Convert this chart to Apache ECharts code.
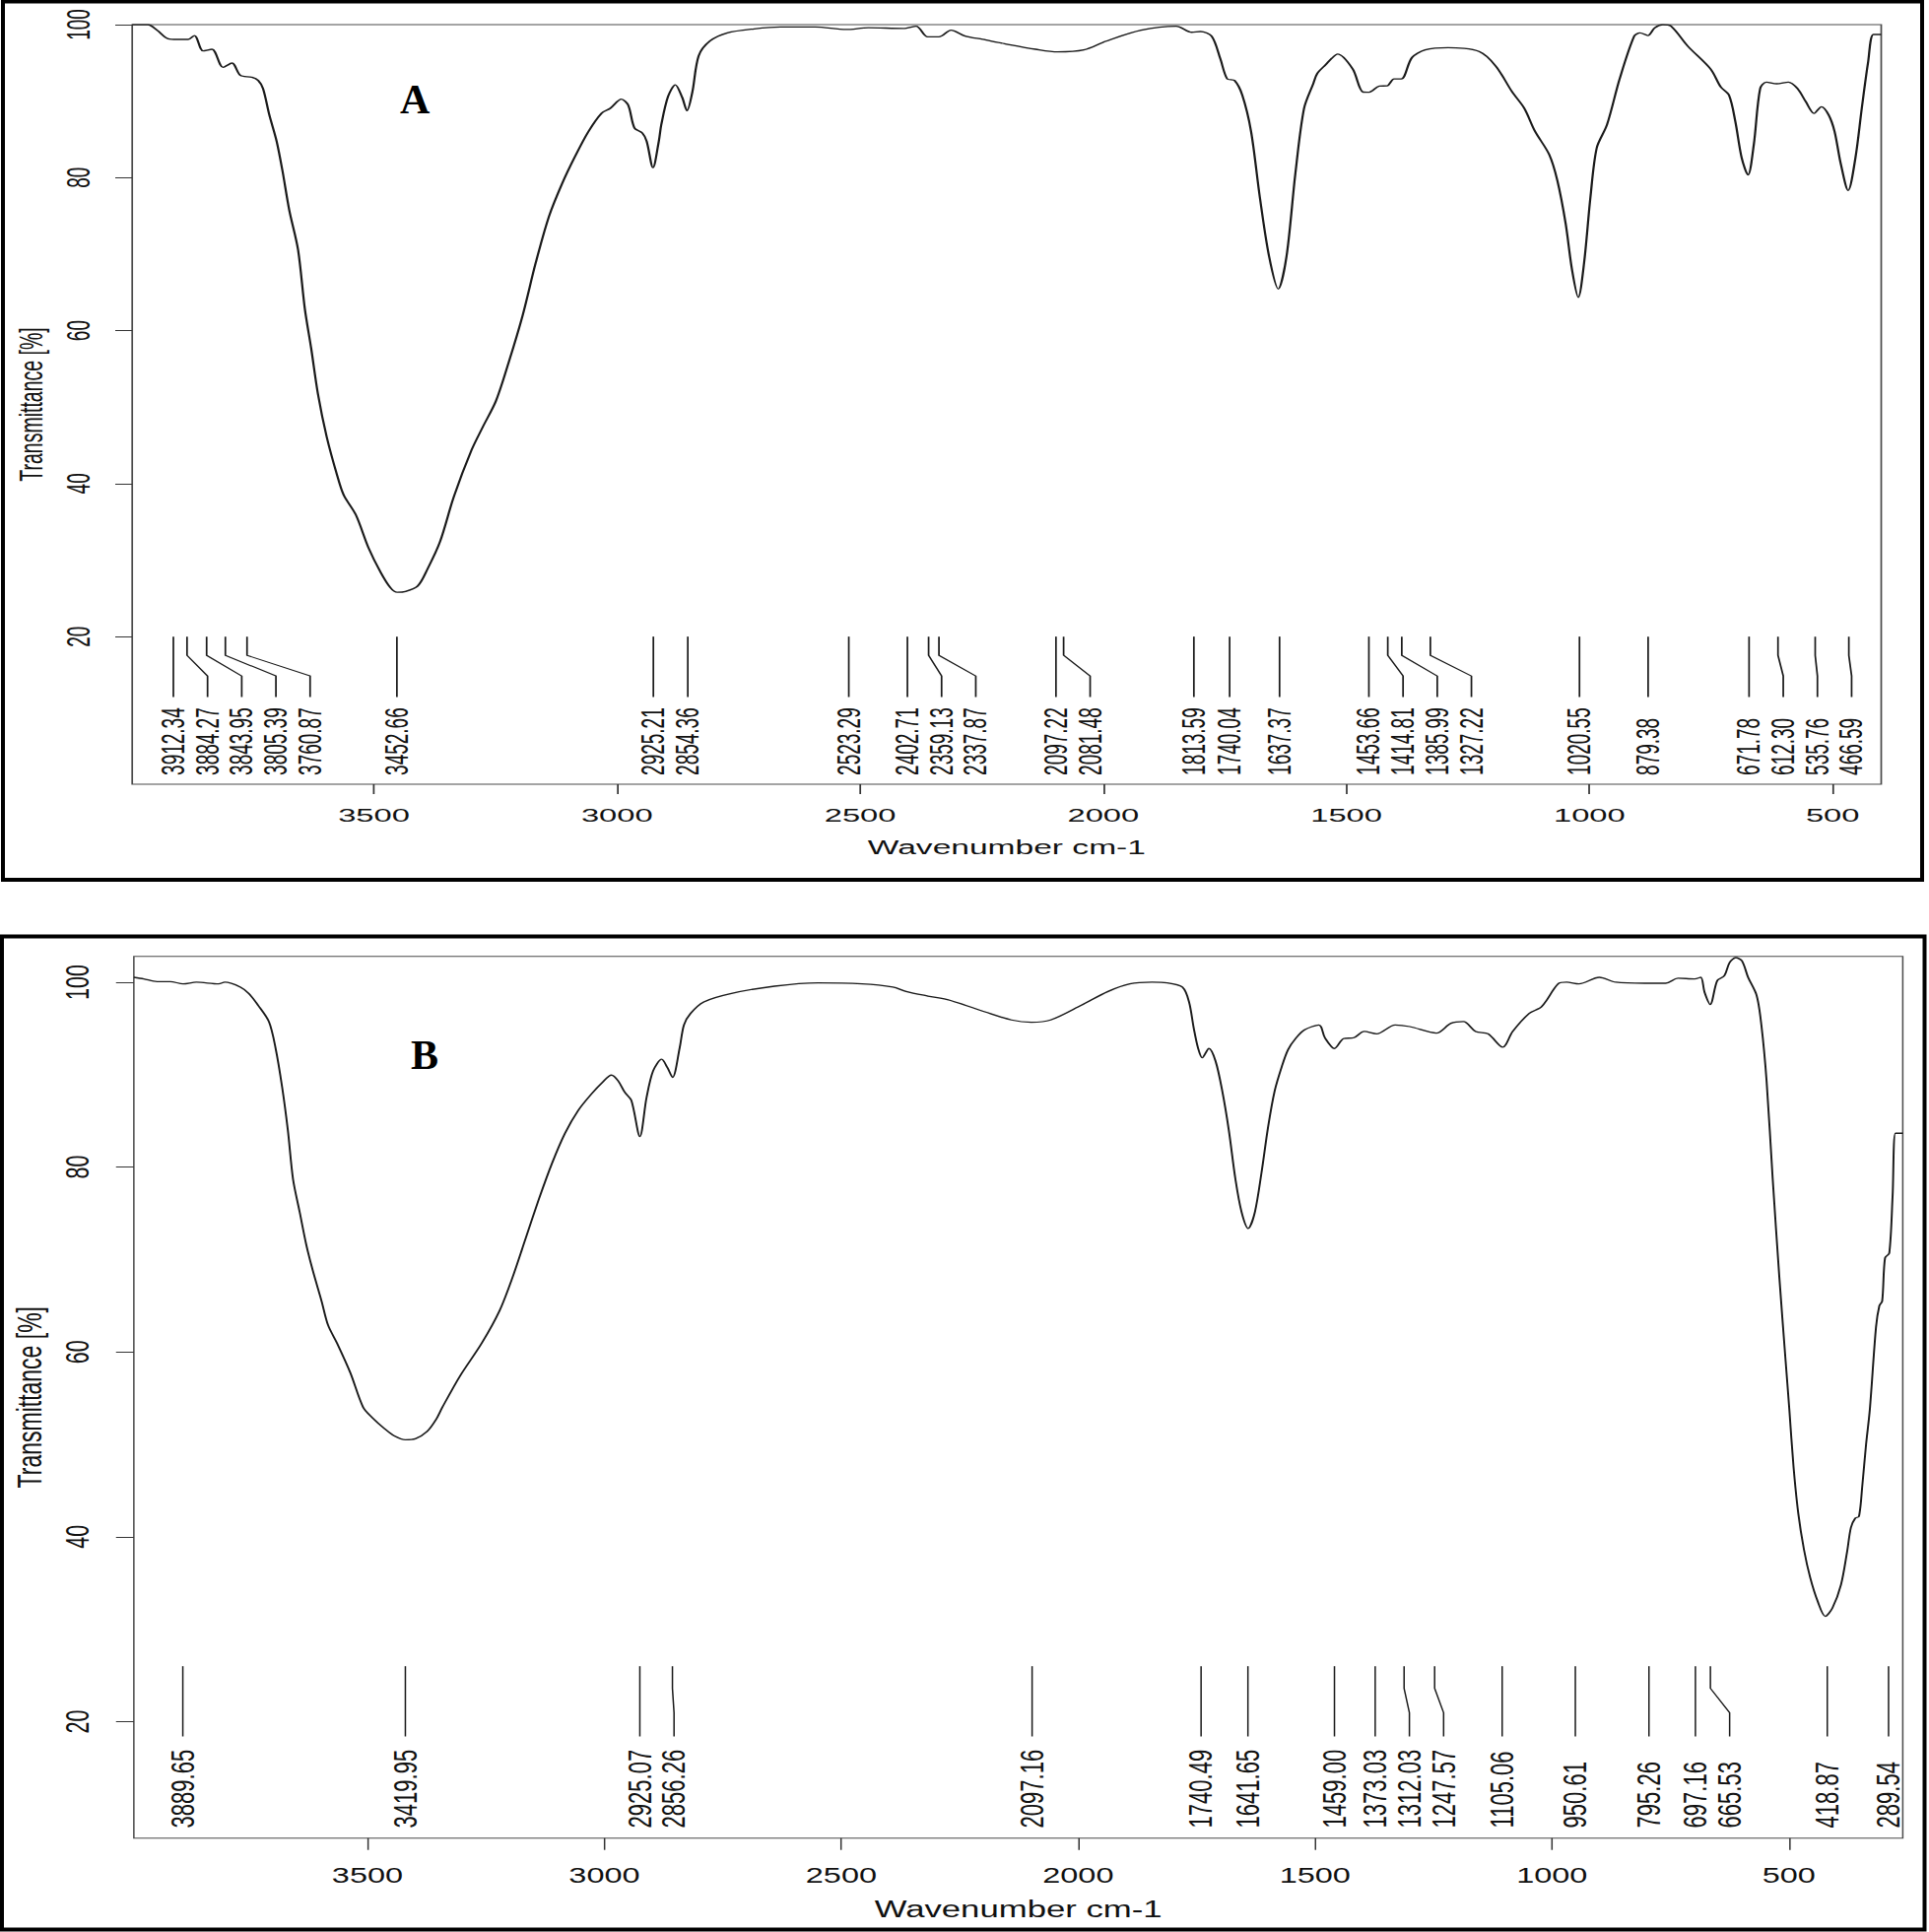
<!DOCTYPE html>
<html>
<head>
<meta charset="utf-8">
<script src="https://cdn.jsdelivr.net/npm/echarts@6/dist/echarts.min.js"></script>
<style>
html,body{margin:0;padding:0;background:#fff;}
#wrap{position:relative;width:1958px;height:1961px;overflow:hidden;background:#fff;}
#pa{position:absolute;left:0;top:0;width:1138px;height:930px;transform-origin:0 0;}
#pb{position:absolute;left:0;top:930px;width:1297px;height:1031px;transform-origin:0 0;}
#ov{position:absolute;left:0;top:0;width:1958px;height:1961px;pointer-events:none;}
</style>
</head>
<body>
<div id="wrap"><div id="pa"></div><div id="pb"></div><div id="ov"></div></div>
<script>
// ---------------- DATA ----------------
const xTicksA = [3500, 3000, 2500, 2000, 1500, 1000, 500];
const xTicksB = [3500, 3000, 2500, 2000, 1500, 1000, 500];
const yTicks = [20, 40, 60, 80, 100];

const waveA = [3997,3965,3946,3923,3905,3882,3869,3851,3833,3810,3792,3774,3751,3738,3728,3715,3700,3688,3674,3656,3642,3629,3615,3597,3575,3562,3537,3511,3486,3466,3452,3435,3410,3390,3364,3335,3299,3276,3249,3222,3194,3167,3140,3113,3086,3059,3032,3014,2991,2977,2964,2948,2939,2926,2914,2909,2895,2880,2866,2856,2845,2832,2809,2773,2718,2664,2592,2529,2483,2411,2385,2361,2338,2313,2284,2248,2203,2139,2094,2040,1994,1922,1850,1818,1800,1777,1759,1745,1730,1714,1696,1678,1659,1640,1623,1605,1587,1568,1560,1542,1530,1518,1487,1466,1453,1432,1416,1402,1387,1365,1338,1291,1227,1193,1159,1134,1112,1083,1066,1049,1036,1023,1011,998,985,964,938,908,896,880,866,849,832,798,751,730,713,700,687,674,662,649,636,615,591,572,555,538,523,508,496,483,468,453,440,427,416,400];
const transA = [100,100,99.27,98.15,98.07,98.07,98.58,96.56,96.78,94.42,94.98,93.34,93.13,92.7,91.63,88.19,84.76,80.9,75.74,70.6,62.86,57.7,51.7,46.1,40.96,38.5,35.9,31.6,28.4,26.4,25.8,25.9,26.6,28.8,32.4,38.4,44.4,47.4,50.8,56.0,62.0,68.9,74.9,79.2,82.8,86.0,88.4,89.05,90.25,89.48,86.47,85.83,84.76,81.3,84.76,86.9,90.6,92.14,90.5,88.75,91.2,95.92,97.85,98.93,99.45,99.7,99.7,99.36,99.6,99.5,99.79,98.4,98.4,99.27,98.5,98.07,97.51,96.78,96.43,96.69,97.85,99.27,99.79,99.0,99.1,98.5,95.5,92.9,92.7,90.77,86.05,77.46,69.73,65.44,69.73,80.46,89.05,92.3,93.6,94.8,95.6,96.14,94.2,91.2,91.17,91.97,92.0,92.9,92.9,95.7,96.7,97.0,96.48,94.6,91.2,89.05,86.05,83.04,79.6,74.0,68.0,64.35,68.9,77.46,83.9,86.9,92.9,98.5,98.93,98.58,99.57,100,99.79,97.2,94.2,91.84,90.77,87.33,82.6,80.33,84.33,91.63,92.49,92.27,92.49,91.63,89.91,88.4,89.27,88.19,86.05,81.75,78.32,82.6,89.05,95.07,98.71,98.71];

const peaksA = [3912.34,3884.27,3843.95,3805.39,3760.87,3452.66,2925.21,2854.36,2523.29,2402.71,2359.13,2337.87,2097.22,2081.48,1813.59,1740.04,1637.37,1453.66,1414.81,1385.99,1327.22,1020.55,879.38,671.78,612.30,535.76,466.59];

const waveB = [3993,3972,3944,3916,3889,3861,3814,3801,3768,3750,3731,3708,3694,3680,3668,3657,3643,3629,3615,3597,3583,3564,3536,3509,3490,3464,3443,3420,3399,3374,3355,3342,3305,3259,3221,3194,3166,3138,3110,3083,3055,3027,3004,2985,2971,2957,2943,2925,2911,2897,2879,2867,2856,2841,2832,2818,2790,2734,2641,2549,2456,2391,2363,2317,2271,2197,2141,2099,2058,1993,1937,1891,1844,1812,1780,1766,1756,1747,1738,1724,1710,1696,1682,1668,1655,1641,1627,1613,1599,1585,1570,1557,1540,1522,1492,1479,1459,1440,1418,1396,1370,1331,1300,1244,1213,1187,1161,1135,1104,1083,1048,1022,987,969,943,900,865,804,760,734,699,686,678,666,651,636,625,612,599,586,568,558,547,534,520,507,499,490,480,468,455,439,423,408,390,377,369,360,352,345,337,329,316,309,303,297,288,281,275,264,259.5];
const transB = [100.53,100.36,100.07,100.07,99.82,100.0,99.82,100,99.47,98.76,97.52,95.74,92.9,88.64,84.0,78.68,75.13,71.58,68.74,65.54,62.88,60.93,57.73,54.0,52.9,51.7,50.9,50.5,50.6,51.4,52.7,54.0,57.37,60.93,64.48,68.03,72.29,76.55,80.46,83.66,86.14,87.92,89.17,89.95,89.34,88.1,87.21,83.31,87.5,90.41,91.66,90.77,89.7,92.9,95.38,96.63,97.87,98.76,99.57,99.93,99.82,99.47,99.0,98.5,98.05,96.8,95.92,95.67,95.92,97.52,99.0,99.82,100.0,99.93,99.47,97.87,95.03,92.9,91.83,92.83,91.47,88.28,84.0,78.68,75.13,73.36,75.13,79.4,84.37,88.28,90.9,92.7,93.97,94.85,95.38,93.97,92.83,93.89,94.0,94.67,94.42,95.38,95.2,94.5,95.56,95.74,94.67,94.42,92.97,94.67,96.63,97.34,99.82,100,99.82,100.53,100,99.89,99.89,100.43,100.36,100.53,98.93,97.59,100.18,100.71,102.13,102.66,102.31,100.53,98.58,95.38,89.34,78.68,68.03,59.15,53.8,47.5,42.5,38.6,35.6,33.0,31.4,32.3,34.8,38.4,41.0,42.0,42.2,45.5,50,53.8,62.7,65.0,65.5,70.16,70.7,76.9,83.66,83.66,83.66];

const peaksB = [3889.65,3419.95,2925.07,2856.26,2097.16,1740.49,1641.65,1459.00,1373.03,1312.03,1247.57,1105.06,950.61,795.26,697.16,665.53,418.87,289.54];

// ---------------- LAYOUT ----------------
const FONT = '"Liberation Sans", Arial, Helvetica, sans-serif';
const W_A = 1138, W_B = 1297;
const kA = 1958 / W_A, kB = 1958 / W_B;
document.getElementById('pa').style.transform = 'scaleX(' + kA + ')';
document.getElementById('pb').style.transform = 'scaleX(' + kB + ')';

function spreadLabels(peaks, gap) {
  const out = []; let prev = Infinity;
  peaks.forEach(p => { const lw = Math.min(p, prev - gap); out.push(lw); prev = lw; });
  return out;
}

function makeOption(cfg) {
  const lw = spreadLabels(cfg.peaks, cfg.gap);
  const labels = cfg.peaks.map(p => p.toFixed(2));
  const L = cfg.lines;
  return {
    animation: false,
    backgroundColor: 'transparent',
    grid: { left: cfg.grid.left, right: cfg.grid.right, top: cfg.grid.top, height: cfg.grid.height,
            show: true, borderColor: '#4a4a4a', borderWidth: 1, backgroundColor: 'transparent' },
    xAxis: {
      type: 'value', inverse: true, min: cfg.xmin, max: cfg.xmax,
      axisLine: { show: false }, splitLine: { show: false },
      axisTick: { show: true, customValues: cfg.xTicks, length: cfg.tick, lineStyle: { color: '#333', width: 1 } },
      axisLabel: { customValues: cfg.xTicks, margin: cfg.xMargin, fontSize: cfg.tickFont, fontFamily: FONT, color: '#111',
                   formatter: v => String(v) },
      name: 'Wavenumber cm-1', nameLocation: 'middle', nameGap: cfg.xNameGap,
      nameTextStyle: { fontSize: cfg.nameFont, fontFamily: FONT, color: '#111' }
    },
    yAxis: {
      type: 'value', min: cfg.ymin, max: cfg.ymax,
      axisLine: { show: false }, splitLine: { show: false },
      axisTick: { show: true, customValues: yTicks, length: cfg.tick, lineStyle: { color: '#333', width: 1 } },
      axisLabel: { customValues: yTicks, rotate: 90, margin: cfg.yMargin, fontSize: cfg.tickFont, fontFamily: FONT, color: '#111',
                   formatter: v => String(v) },
      name: 'Transmittance [%]', nameLocation: 'middle', nameGap: cfg.yNameGap,
      nameTextStyle: { fontSize: cfg.nameFont, fontFamily: FONT, color: '#111' }
    },
    series: [
      {
        type: 'line', data: cfg.wave.map((w, i) => [w, cfg.trans[i]]),
        showSymbol: false, symbol: 'none', smooth: 0.3,
        lineStyle: { color: '#1a1a1a', width: 1.3 }, z: 3
      },
      {
        type: 'custom', data: cfg.peaks.map((p, i) => [p, lw[i], i]),
        renderItem: function (params, api) {
          const p = api.value(0), q = api.value(1), i = api.value(2);
          const top = api.coord([p, L.top]);
          const bot = api.coord([q, L.bottom]);
          const pts = Math.abs(p - q) < 1e-6 ? [top, bot]
            : [top, api.coord([p, L.bend1]), api.coord([q, L.bend2]), bot];
          const lab = api.coord([q, L.label]);
          return {
            type: 'group',
            children: [
              { type: 'polyline', shape: { points: pts }, style: { stroke: '#1a1a1a', lineWidth: 1, fill: 'none' } },
              { type: 'text', x: lab[0], y: lab[1], rotation: Math.PI / 2,
                style: { text: labels[i], fill: '#111', font: cfg.labelFont + 'px ' + FONT,
                         textAlign: 'left', textVerticalAlign: 'middle', align: 'left', verticalAlign: 'middle' } }
            ]
          };
        },
        z: 4
      }
    ]
  };
}

const optA = makeOption({
  wave: waveA, trans: transA, peaks: peaksA, gap: 70.3,
  xmin: 400, xmax: 3997, ymin: 0.7, ymax: 100, xTicks: xTicksA,
  grid: { left: 134 / kA, right: W_A - 1909.5 / kA, top: 25, height: 771 },
  lines: { top: 20, bend1: 17.55, bend2: 14.85, bottom: 12.1, label: 1.87 },
  tick: 10, tickFont: 19, nameFont: 19.5, labelFont: 19,
  xMargin: 22, yMargin: 22, xNameGap: 54, yNameGap: 50
});

const optB = makeOption({
  wave: waveB, trans: transB, peaks: peaksB, gap: 72.2,
  xmin: 259.5, xmax: 3993, ymin: 7.4, ymax: 102.8, xTicks: xTicksB,
  grid: { left: 132.7 / kB, right: W_B - 1931.4 / kB, top: 40.7, height: 895 },
  lines: { top: 26.0, bend1: 23.6, bend2: 20.96, bottom: 18.4, label: 8.5 },
  tick: 12, tickFont: 21.5, nameFont: 23, labelFont: 22,
  xMargin: 27, yMargin: 27, xNameGap: 61, yNameGap: 59
});

const cA = echarts.init(document.getElementById('pa'), null, { renderer: 'svg', width: W_A, height: 930 });
cA.setOption(optA);
const cB = echarts.init(document.getElementById('pb'), null, { renderer: 'svg', width: W_B, height: 1031 });
cB.setOption(optB);

const cO = echarts.init(document.getElementById('ov'), null, { renderer: 'svg', width: 1958, height: 1961 });
cO.setOption({
  animation: false,
  backgroundColor: 'transparent',
  graphic: [
    { type: 'rect', shape: { x: 3, y: 1.5, width: 1948, height: 891.5 }, style: { fill: 'none', stroke: '#000', lineWidth: 4 } },
    { type: 'rect', shape: { x: 2, y: 950.5, width: 1951.5, height: 1008 }, style: { fill: 'none', stroke: '#000', lineWidth: 4 } },
    { type: 'text', x: 406, y: 100.5, style: { text: 'A', fill: '#000', font: 'bold 42px "Liberation Serif", "Times New Roman", serif', textAlign: 'left', textVerticalAlign: 'middle', align: 'left', verticalAlign: 'middle' } },
    { type: 'text', x: 417, y: 1070.8, style: { text: 'B', fill: '#000', font: 'bold 42px "Liberation Serif", "Times New Roman", serif', textAlign: 'left', textVerticalAlign: 'middle', align: 'left', verticalAlign: 'middle' } }
  ]
});
</script>
</body>
</html>
